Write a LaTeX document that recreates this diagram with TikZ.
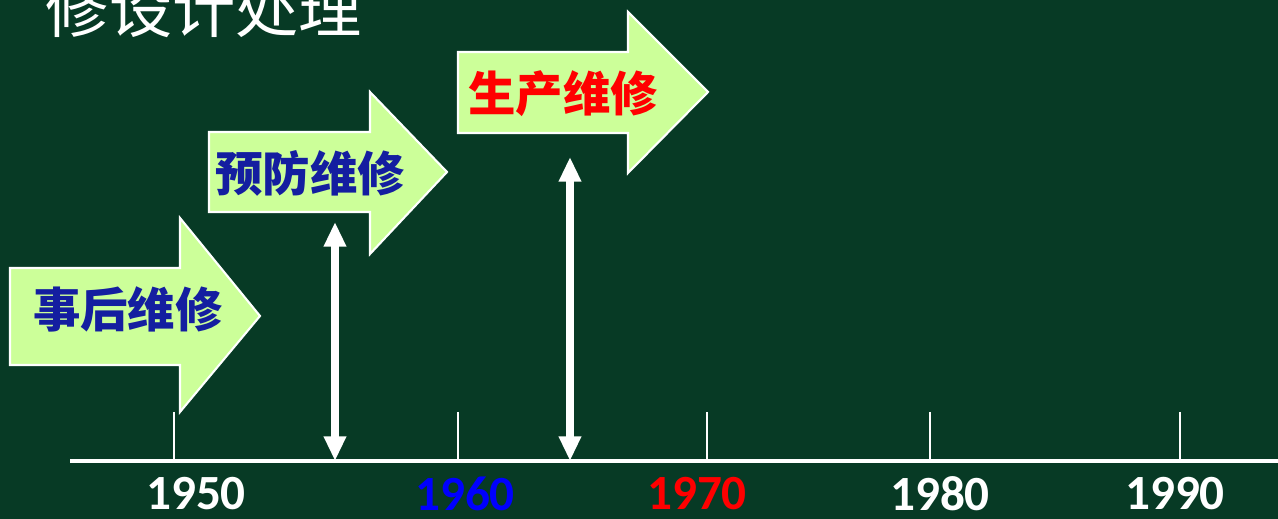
\documentclass[tikz,border=0pt]{standalone}
\usepackage{fontspec}
\usepackage{xcolor}
\usetikzlibrary{arrows.meta,positioning,calc}
\newfontfamily\cjk{Noto Sans CJK SC}
\newfontfamily\yearfont{Carlito}
\definecolor{board}{RGB}{7,58,37}
\definecolor{leaf}{RGB}{204,255,153}
\definecolor{navy}{RGB}{20,30,160}

\tikzset{
  blockarrow/.style={fill=leaf,draw=white,line width=1.2pt,line join=miter},
  phase/.style={font=\cjk\bfseries\fontsize{27}{30}\selectfont,inner sep=0pt},
  year/.style={font=\yearfont\bfseries\fontsize{28}{30}\selectfont,inner sep=0pt},
  span/.style={white,line width=4pt,{Triangle[width=12pt,length=14pt]}-{Triangle[width=12pt,length=14pt]}}
}

\begin{document}
\begin{tikzpicture}[x=0.02cm,y=-0.02cm]
\fill[board] (0,0) rectangle (1278,519);
\useasboundingbox (0,0) rectangle (1278,519);

% title (cut off at the top)
\node[white,font=\cjk\fontsize{36}{38}\selectfont,inner sep=0pt] (title) at (204,9) {修设计处理};

% time axis
\coordinate (axis start) at (70,461);
\coordinate (axis end) at (1278,461);
\draw[white,line width=2.8pt] (axis start) -- (axis end);
\foreach \x in {174,458,707,930,1180}
    \draw[white,line width=1.1pt] (\x,412) -- (\x,459);
\foreach \x/\yr/\c in {196/1950/white,465/1960/blue,697/1970/red,940/1980/white,1175/1990/white}
    \node[year,text=\c] (y\yr) at (\x,494) {\yr};

% block arrows
\draw[blockarrow] (10,268) -- (180,268) -- (180,218) -- (260,316) -- (180,412) -- (180,365) -- (10,365) -- cycle;
\node[phase,text=navy] (after) at (128,309) {事后维修};

\draw[blockarrow] (209,132) -- (370,132) -- (370,92) -- (447,172) -- (370,254) -- (370,212) -- (209,212) -- cycle;
\node[phase,text=navy] (prevent) at (310,173) {预防维修};

\draw[blockarrow] (458,52) -- (628,52) -- (628,12) -- (708,92) -- (628,173) -- (628,133) -- (458,133) -- cycle;
\node[phase,text=red] (product) at (563,94) {生产维修};

% double arrows down to the axis
\coordinate (pm top) at (335,222);
\coordinate (pm bot) at (335,461);
\draw[span] (pm top) -- (pm bot);
\coordinate (prm top) at (570,157);
\coordinate (prm bot) at (570,461);
\draw[span] (prm top) -- (prm bot);
\end{tikzpicture}
\end{document}
